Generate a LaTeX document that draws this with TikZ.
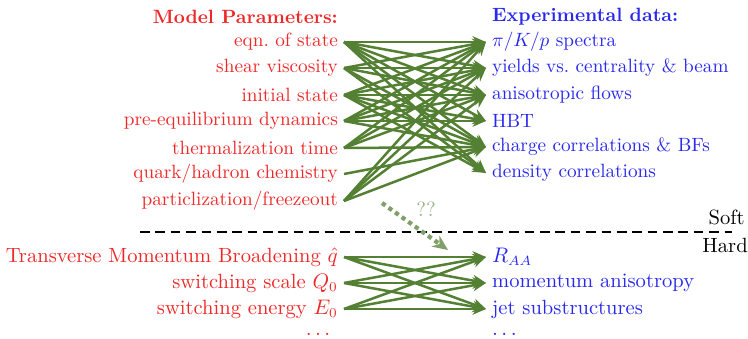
\documentclass[tikz,border=0pt]{standalone}
\usepackage{amsmath}
\usepackage{xcolor}
\usepackage{tikz}
\usetikzlibrary{arrows.meta}
\definecolor{paramcol}{RGB}{238,40,40}
\definecolor{datacol}{RGB}{40,40,238}
\definecolor{linkcol}{RGB}{84,128,52}

\begin{document}
\begin{tikzpicture}[
  x=0.52pt, y=-0.52pt,
  font=\normalsize,
  param/.style={anchor=east, text=paramcol, inner xsep=3pt, inner ysep=1pt},
  obs/.style={anchor=west, text=datacol, inner xsep=3pt, inner ysep=1pt},
  hardtxt/.style={font=\fontsize{10.7}{12}\selectfont},
  link/.style={-{Stealth[length=7pt,width=6pt]}, line width=1.3pt, linkcol}
]
  \useasboundingbox (0,0) rectangle (748,339);

  % headings
  \node[param, font=\bfseries] (ph) at (344,17) {Model Parameters:};
  \node[obs, font=\bfseries] (dh) at (486,17) {Experimental data:};

  % soft sector
  \node[param] (p1) at (344,42) {eqn.\ of state};
  \node[param] (p2) at (344,68) {shear viscosity};
  \node[param] (p3) at (344,95) {initial state};
  \node[param] (p4) at (344,121) {pre-equilibrium dynamics};
  \node[param] (p5) at (344,148) {thermalization time};
  \node[param] (p6) at (344,174) {quark/hadron chemistry};
  \node[param] (p7) at (344,201) {particlization/freezeout};

  \node[obs] (d1) at (486,42) {$\pi/K/p$ spectra};
  \node[obs] (d2) at (486,68) {yields vs.\ centrality \& beam};
  \node[obs] (d3) at (486,95) {anisotropic flows};
  \node[obs] (d4) at (486,121) {HBT};
  \node[obs] (d5) at (486,147) {charge correlations \& BFs};
  \node[obs] (d6) at (486,173) {density correlations};

  \foreach \a/\b in {1/1,1/2,1/3,1/4,1/5,1/6,
                     2/1,2/2,2/3,2/5,2/6,
                     3/1,3/2,3/3,3/4,3/5,3/6,
                     4/1,4/2,4/3,4/4,4/5,
                     5/1,5/2,5/3,5/5,
                     6/5,
                     7/1,7/2,7/3,7/5}
    \draw[link] (p\a.east) -- (d\b.west);

  % soft / hard divider
  \coordinate (cutl) at (140,232);
  \coordinate (cutr) at (732,232);
  \draw[line width=0.8pt, dash pattern=on 5pt off 3pt] (cutl) -- (cutr);
  \node[anchor=south east, inner sep=1pt, hardtxt] (soft) at (747,227) {Soft};
  \node[anchor=north east, inner sep=1pt, hardtxt] (hard) at (750,236) {Hard};

  % hard sector
  \node[param, hardtxt] (h1) at (344,257) {Transverse Momentum Broadening $\hat{q}$};
  \node[param, hardtxt] (h2) at (344,283) {switching scale $Q_0$};
  \node[param, hardtxt] (h3) at (344,309) {switching energy $E_0$};
  \node[param, hardtxt] (h4) at (340,334) {$\dots$};

  \node[obs, hardtxt] (o1) at (486,257) {$R_{AA}$};
  \node[obs, hardtxt] (o2) at (486,283) {momentum anisotropy};
  \node[obs, hardtxt] (o3) at (486,309) {jet substructures};
  \node[obs, hardtxt] (o4) at (486,334) {$\dots$};

  \foreach \a in {1,2,3}
    \foreach \b in {1,2,3}
      \draw[link] (h\a.east) -- (o\b.west);

  % soft-to-hard question
  \coordinate (qs) at (382,203);
  \coordinate (qe) at (448,250);
  \draw[-{Stealth[length=8pt,width=7pt]}, line width=2.2pt, dotted,
        linkcol!75] (qs) -- (qe);
  \node[text=linkcol!60, inner sep=0pt, hardtxt] (qq) at (426,209) {??};
\end{tikzpicture}
\end{document}
